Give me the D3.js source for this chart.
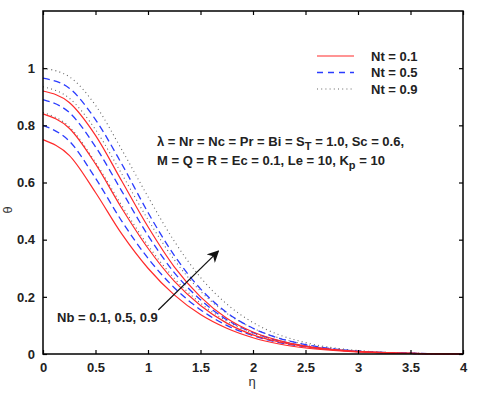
<!DOCTYPE html>
<meta charset="utf-8">
<style>
  body { margin: 0; background: #fff; }
  text { font-family: Arial, "Liberation Sans", sans-serif; }
</style>
<svg width="480" height="393"></svg>
<script src="https://d3js.org/d3.v7.min.js"></script>
<script>
// eta grid shared by every curve
var eta = [0, 0.25, 0.5, 0.75, 1, 1.25, 1.5, 1.75, 2, 2.25, 2.5, 3, 3.5, 4];

// Nt = 0.1 (red), Nb = 0.1, 0.5, 0.9
var nt01 = [
  [0.75, 0.695, 0.565, 0.42, 0.30, 0.207, 0.138, 0.09, 0.057, 0.035, 0.021, 0.007, 0.002, 0],
  [0.84, 0.79, 0.665, 0.51, 0.37, 0.255, 0.17, 0.108, 0.067, 0.042, 0.026, 0.008, 0.002, 0],
  [0.92, 0.88, 0.765, 0.605, 0.445, 0.305, 0.20, 0.125, 0.077, 0.047, 0.028, 0.009, 0.002, 0]
];
// Nt = 0.5 (blue dashed)
var nt05 = [
  [0.80, 0.745, 0.615, 0.465, 0.335, 0.232, 0.155, 0.10, 0.064, 0.04, 0.025, 0.008, 0.002, 0],
  [0.89, 0.845, 0.725, 0.57, 0.415, 0.285, 0.19, 0.12, 0.075, 0.046, 0.028, 0.009, 0.002, 0],
  [0.965, 0.93, 0.82, 0.665, 0.495, 0.345, 0.228, 0.145, 0.09, 0.055, 0.033, 0.01, 0.003, 0]
];
// Nt = 0.9 (grey dotted)
var nt09 = [
  [0.845, 0.795, 0.67, 0.52, 0.38, 0.265, 0.178, 0.115, 0.073, 0.046, 0.028, 0.009, 0.002, 0],
  [0.935, 0.895, 0.785, 0.63, 0.47, 0.33, 0.22, 0.142, 0.09, 0.056, 0.034, 0.011, 0.003, 0],
  [1.0, 0.97, 0.87, 0.715, 0.55, 0.395, 0.268, 0.175, 0.11, 0.067, 0.04, 0.012, 0.003, 0]
];

var xTicks = [0, 0.5, 1, 1.5, 2, 2.5, 3, 3.5, 4];
var yTicks = [0, 0.2, 0.4, 0.6, 0.8, 1];
var legendLabels = ["Nt = 0.1", "Nt = 0.5", "Nt = 0.9"];
var arrowFrom = [1.098, 0.154], arrowTo = [1.67, 0.36];

var svg = d3.select("svg");
var mL = 43, mR = 463, mT = 11, mB = 354;

var x = d3.scaleLinear().domain([0, 4]).range([mL, mR]);
var y = d3.scaleLinear().domain([0, 1.2]).range([mB, mT]);

var line = d3.line()
  .x(function(d, i) { return x(eta[i]); })
  .y(function(d) { return y(d); })
  .curve(d3.curveMonotoneX);

var styles = [
  { data: nt09, color: "#666", dash: "1,3.2", width: 1.1 },
  { data: nt05, color: "#2a3cff", dash: "7,4", width: 1.3 },
  { data: nt01, color: "#ff2a2a", dash: null, width: 1.2 }
];

styles.forEach(function(s) {
  svg.append("g").selectAll("path").data(s.data).enter().append("path")
    .attr("d", line)
    .attr("fill", "none")
    .attr("stroke", s.color)
    .attr("stroke-width", s.width)
    .attr("stroke-dasharray", s.dash);
});

// axes: bottom/left with labels, top/right mirrored ticks
var tickFont = function(g) {
  g.selectAll("text").attr("font-size", 13).attr("font-weight", "bold")
    .attr("font-family", "Arial, 'Liberation Sans', sans-serif").attr("fill", "#222");
  g.select(".domain").remove();
  g.selectAll("line").attr("stroke", "#000").attr("stroke-width", 1.2);
};

svg.append("g").attr("transform", "translate(0," + mB + ")")
  .call(d3.axisBottom(x).tickValues(xTicks).tickSizeInner(-4).tickSizeOuter(0).tickPadding(9)
    .tickFormat(d3.format("")))
  .call(tickFont);
svg.append("g").attr("transform", "translate(" + mL + ",0)")
  .call(d3.axisLeft(y).tickValues(yTicks).tickSizeInner(-4).tickSizeOuter(0).tickPadding(8)
    .tickFormat(d3.format("")))
  .call(tickFont);
svg.append("g").attr("transform", "translate(0," + mT + ")")
  .call(d3.axisTop(x).tickValues(xTicks).tickSizeInner(-4).tickSizeOuter(0).tickFormat(""))
  .call(tickFont);
svg.append("g").attr("transform", "translate(" + mR + ",0)")
  .call(d3.axisRight(y).tickValues(yTicks).tickSizeInner(-4).tickSizeOuter(0).tickFormat(""))
  .call(tickFont);

svg.append("rect")
  .attr("x", mL).attr("y", mT)
  .attr("width", mR - mL).attr("height", mB - mT)
  .attr("fill", "none").attr("stroke", "#000").attr("stroke-width", 1.5);

// axis titles
svg.append("text").attr("x", 252).attr("y", 386).attr("text-anchor", "middle")
  .attr("font-size", 13).attr("fill", "#333").text("η");
svg.append("text").attr("transform", "translate(12,210) rotate(-90)")
  .attr("text-anchor", "middle").attr("font-size", 13).attr("fill", "#333").text("θ");

// legend
var legend = svg.append("g");
var legY = [56, 72.5, 89];
[nt01, nt05, nt09].forEach(function(d, i) {
  var s = styles[2 - i];
  legend.append("line")
    .attr("x1", 317).attr("x2", 354).attr("y1", legY[i]).attr("y2", legY[i])
    .attr("stroke", s.color).attr("stroke-width", s.width)
    .attr("stroke-dasharray", i === 1 ? "6,5" : s.dash);
  legend.append("text").attr("x", 371).attr("y", legY[i] + 4.5)
    .attr("font-size", 13).attr("font-weight", "bold").attr("fill", "#222")
    .text(legendLabels[i]);
});

// parameter annotation
var ann = svg.append("g").attr("font-size", 13).attr("font-weight", "bold").attr("fill", "#222");
var t1 = ann.append("text").attr("x", 157).attr("y", 146);
t1.append("tspan").text("λ = Nr = Nc = Pr = Bi = S");
t1.append("tspan").attr("font-size", 11).attr("dy", 4).text("T");
t1.append("tspan").attr("dy", -4).text(" = 1.0, Sc = 0.6,");
var t2 = ann.append("text").attr("x", 157).attr("y", 165);
t2.append("tspan").text("M = Q = R = Ec = 0.1, Le = 10, K");
t2.append("tspan").attr("font-size", 11).attr("dy", 4).text("p");
t2.append("tspan").attr("dy", -4).text(" = 10");

// arrow + Nb label
svg.append("defs").append("marker")
  .attr("id", "head").attr("viewBox", "0 0 10 10").attr("refX", 9).attr("refY", 5)
  .attr("markerWidth", 10).attr("markerHeight", 10).attr("orient", "auto")
  .append("path").attr("d", "M0,0 L10,5 L0,10 L3,5 Z").attr("fill", "#111");
svg.append("line")
  .attr("x1", x(arrowFrom[0])).attr("y1", y(arrowFrom[1]))
  .attr("x2", x(arrowTo[0])).attr("y2", y(arrowTo[1]))
  .attr("stroke", "#111").attr("stroke-width", 1.2).attr("marker-end", "url(#head)");
svg.append("text").attr("x", 57).attr("y", 322)
  .attr("font-size", 13).attr("font-weight", "bold").attr("fill", "#222")
  .text("Nb = 0.1, 0.5, 0.9");
</script>
